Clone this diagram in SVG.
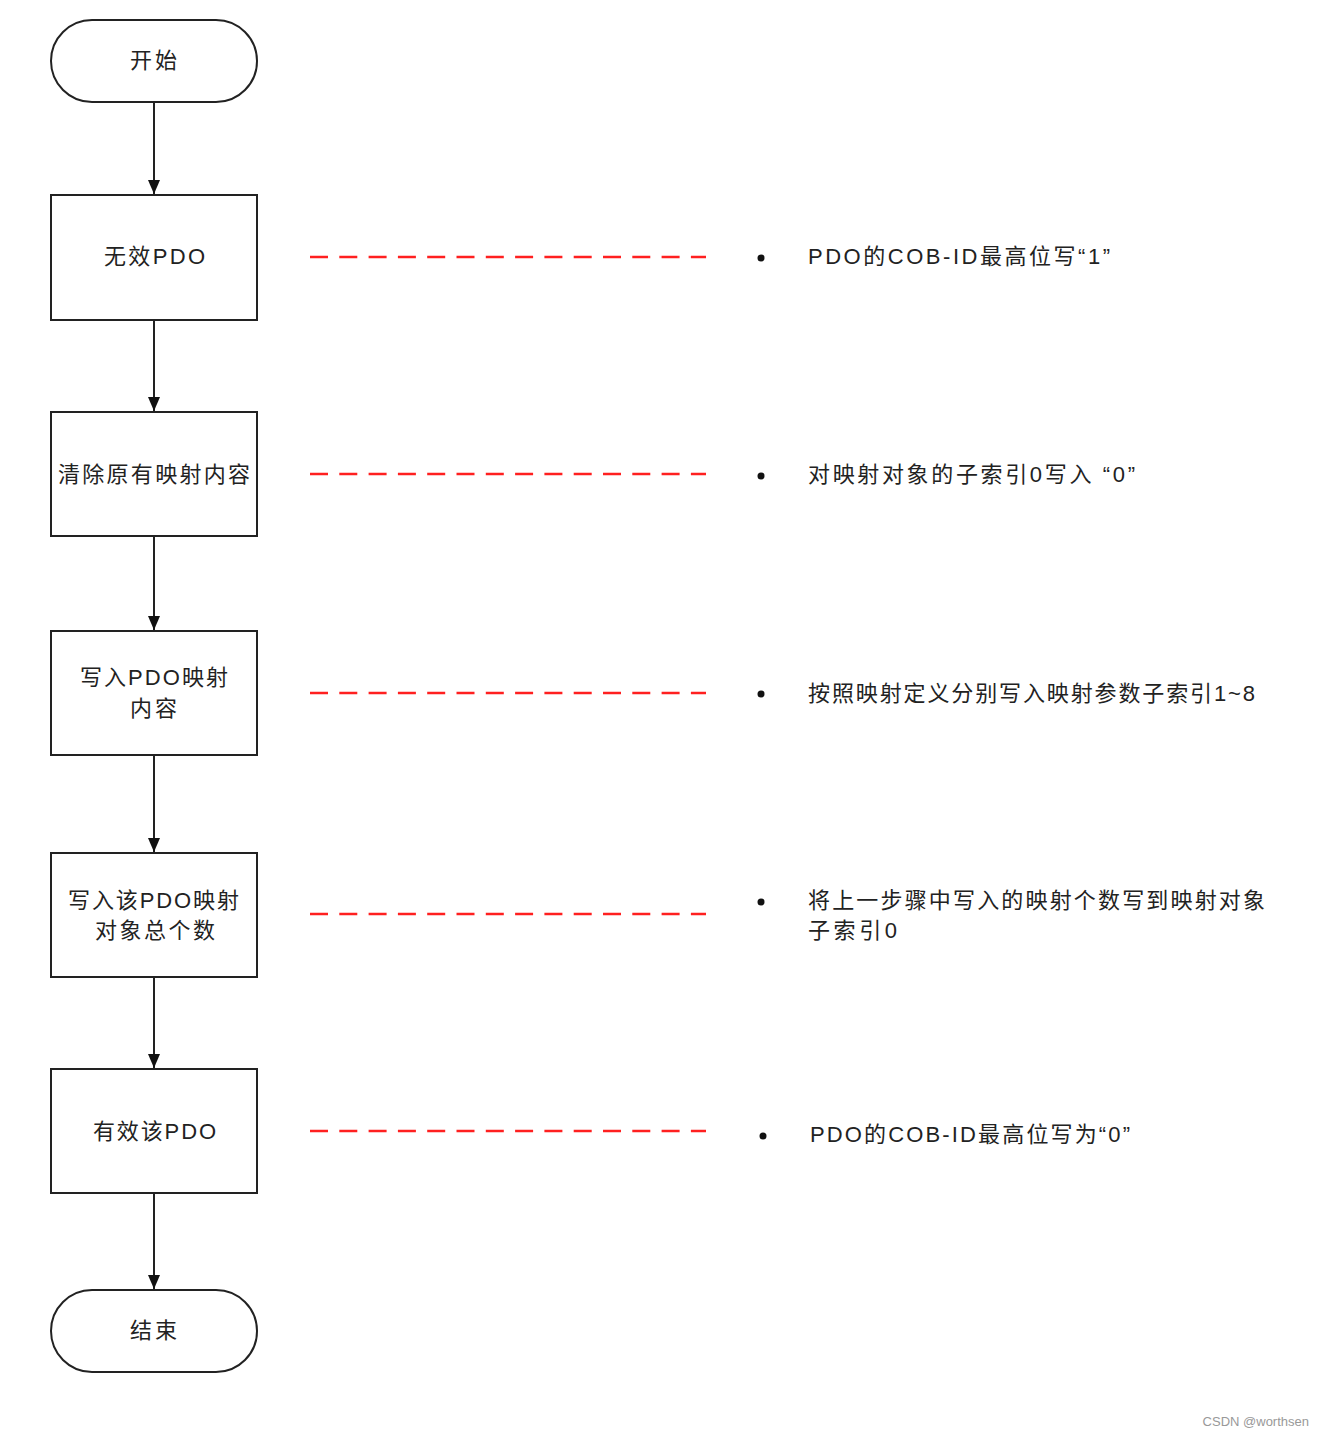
<svg xmlns="http://www.w3.org/2000/svg" width="1324" height="1436" viewBox="0 0 1324 1436">
<style>
.n{fill:#fff;stroke:#222;stroke-width:2}
.t{font-family:"Liberation Sans","Noto Sans CJK SC",sans-serif;font-size:22px;fill:#222}
.a{stroke:#222;stroke-width:2;fill:none;marker-end:url(#ah)}
.d{stroke:#ff2020;stroke-width:2.5;stroke-dasharray:18 11.3;fill:none}
.b{fill:#111}
</style>
<defs>
<marker id="ah" markerWidth="14" markerHeight="12" refX="14" refY="6" orient="auto" markerUnits="userSpaceOnUse">
<path d="M0,0 L14,6 L0,12 Z" fill="#111"/>
</marker>
</defs>
<rect width="1324" height="1436" fill="#fff"/>
<g id="connectors">
<line class="a" x1="154" y1="102" x2="154" y2="194"/>
<line class="a" x1="154" y1="320" x2="154" y2="411"/>
<line class="a" x1="154" y1="536" x2="154" y2="630"/>
<line class="a" x1="154" y1="755" x2="154" y2="852"/>
<line class="a" x1="154" y1="977" x2="154" y2="1068"/>
<line class="a" x1="154" y1="1193" x2="154" y2="1289"/>
<line class="d" x1="310" y1="257" x2="706" y2="257"/>
<line class="d" x1="310" y1="474" x2="706" y2="474"/>
<line class="d" x1="310" y1="693" x2="706" y2="693"/>
<line class="d" x1="310" y1="914" x2="706" y2="914"/>
<line class="d" x1="310" y1="1131" x2="706" y2="1131"/>
</g>
<g id="start"><rect class="n" x="51" y="20" width="206" height="82" rx="41"/><text class="t" x="130" y="68" textLength="47" lengthAdjust="spacing">开始</text></g>
<g id="box1"><rect class="n" x="51" y="195" width="206" height="125"/><text class="t" x="104" y="264" textLength="101" lengthAdjust="spacing">无效PDO</text></g>
<g id="box2"><rect class="n" x="51" y="412" width="206" height="124"/><text class="t" x="58" y="482" textLength="192" lengthAdjust="spacing">清除原有映射内容</text></g>
<g id="box3"><rect class="n" x="51" y="631" width="206" height="124"/><text class="t" x="80" y="685" textLength="148" lengthAdjust="spacing">写入PDO映射</text><text class="t" x="130" y="716" textLength="47" lengthAdjust="spacing">内容</text></g>
<g id="box4"><rect class="n" x="51" y="853" width="206" height="124"/><text class="t" x="68" y="908" textLength="171" lengthAdjust="spacing">写入该PDO映射</text><text class="t" x="95" y="938" textLength="120" lengthAdjust="spacing">对象总个数</text></g>
<g id="box5"><rect class="n" x="51" y="1069" width="206" height="124"/><text class="t" x="93" y="1139" textLength="123" lengthAdjust="spacing">有效该PDO</text></g>
<g id="end"><rect class="n" x="51" y="1290" width="206" height="82" rx="41"/><text class="t" x="130" y="1338" textLength="47" lengthAdjust="spacing">结束</text></g>
<g id="note1"><circle class="b" cx="761" cy="258" r="3.5"/><text class="t" x="808" y="264" textLength="302" lengthAdjust="spacing">PDO的COB-ID最高位写“1”</text></g>
<g id="note2"><circle class="b" cx="761" cy="476" r="3.5"/><text class="t" x="808" y="482" textLength="327" lengthAdjust="spacing">对映射对象的子索引0写入 “0”</text></g>
<g id="note3"><circle class="b" cx="761" cy="694" r="3.5"/><text class="t" x="808" y="701" textLength="447" lengthAdjust="spacing">按照映射定义分别写入映射参数子索引1~8</text></g>
<g id="note4"><circle class="b" cx="761" cy="902" r="3.5"/><text class="t" x="808" y="908" textLength="457" lengthAdjust="spacing">将上一步骤中写入的映射个数写到映射对象</text><text class="t" x="808" y="938" textLength="89" lengthAdjust="spacing">子索引0</text></g>
<g id="note5"><circle class="b" cx="763" cy="1136" r="3.5"/><text class="t" x="810" y="1142" textLength="320" lengthAdjust="spacing">PDO的COB-ID最高位写为“0”</text></g>
<text x="1309" y="1426" text-anchor="end" style="font-family:'Liberation Sans',sans-serif;font-size:13px;fill:#999">CSDN @worthsen</text>
</svg>
